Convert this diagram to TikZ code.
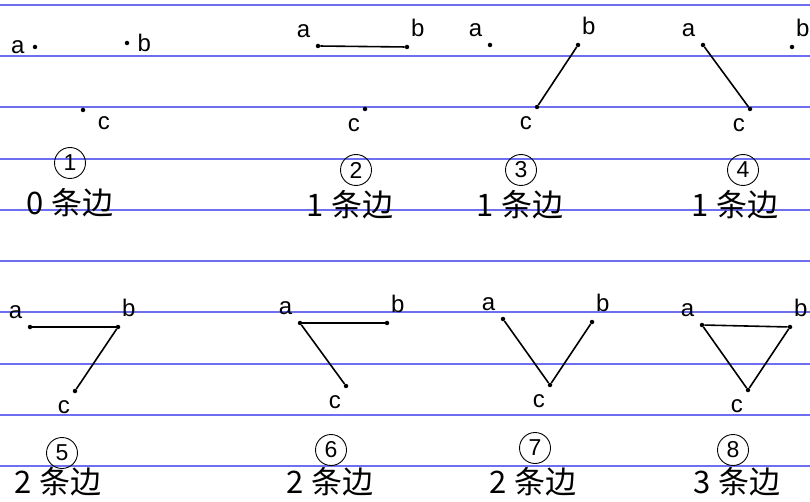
\documentclass[tikz,border=0pt]{standalone}
\usepackage{fontspec}
\setmainfont{Liberation Sans}
\newfontfamily\cjk{Noto Sans CJK SC}
\usepackage{tikz}
\usetikzlibrary{positioning}

\definecolor{ruleblue}{RGB}{110,110,240}

\begin{document}
\begin{tikzpicture}[
  x=1pt, y=-1pt,
  vertex/.style={circle, fill=black, inner sep=0pt, minimum size=4.5pt},
  lbl/.style={font=\fontsize{24}{24}\selectfont, inner sep=1pt, label distance=7pt},
  num/.style={circle, draw, line width=0.9pt, inner sep=0pt, minimum size=31pt, font=\fontsize{23}{23}\selectfont},
  cnt/.style={font=\fontsize{31}{31}\selectfont\cjk, inner sep=0pt},
  link/.style={line width=1.6pt},
  ruled/.style={draw=ruleblue, line width=1.3pt}
]
\useasboundingbox (0,0) rectangle (810,502);
\fill[white] (0,0) rectangle (810,502);
\foreach \y in {5,56,107,159,210,261,312,364,415,466}
  \draw[ruled] (0,\y) -- (810,\y);

% 1
\node[vertex, label={[lbl]180:a}] (pa1) at (35,47) {};
\node[vertex, label={[lbl]0:b}] (pb1) at (127,43) {};
\node[vertex, label={[lbl,label distance=12pt]-20:c}] (pc1) at (83,110) {};
\node[num] (n1) at (70,163) {1};
\node[cnt] (e1) at (70,203) {0 条边};

% 2
\node[vertex, label={[lbl]135:a}] (pa2) at (318,46) {};
\node[vertex, label={[lbl]72:b}] (pb2) at (407,47) {};
\node[vertex, label={[lbl]245:c}] (pc2) at (365,109) {};
\node[num] (n2) at (356,170) {2};
\node[cnt] (e2) at (350,205) {1 条边};
\draw[link] (pa2) -- (pb2);

% 3
\node[vertex, label={[lbl]135:a}] (pa3) at (490,45) {};
\node[vertex, label={[lbl]72:b}] (pb3) at (578,45) {};
\node[vertex, label={[lbl]245:c}] (pc3) at (537,107) {};
\node[num] (n3) at (521,170) {3};
\node[cnt] (e3) at (520,205) {1 条边};
\draw[link] (pb3) -- (pc3);

% 4
\node[vertex, label={[lbl]135:a}] (pa4) at (703,45) {};
\node[vertex, label={[lbl]72:b}] (pb4) at (792,47) {};
\node[vertex, label={[lbl]245:c}] (pc4) at (750,109) {};
\node[num] (n4) at (743,170) {4};
\node[cnt] (e4) at (735,205) {1 条边};
\draw[link] (pa4) -- (pc4);

% 5
\node[vertex, label={[lbl]135:a}] (pa5) at (30,327) {};
\node[vertex, label={[lbl]72:b}] (pb5) at (118,327) {};
\node[vertex, label={[lbl]245:c}] (pc5) at (75,391) {};
\node[num] (n5) at (62,453) {5};
\node[cnt] (e5) at (58,482) {2 条边};
\draw[link] (pa5) -- (pb5);
\draw[link] (pb5) -- (pc5);

% 6
\node[vertex, label={[lbl]135:a}] (pa6) at (300,323) {};
\node[vertex, label={[lbl]72:b}] (pb6) at (387,323) {};
\node[vertex, label={[lbl]245:c}] (pc6) at (346,386) {};
\node[num] (n6) at (331,450) {6};
\node[cnt] (e6) at (330,482) {2 条边};
\draw[link] (pa6) -- (pb6);
\draw[link] (pa6) -- (pc6);

% 7
\node[vertex, label={[lbl]135:a}] (pa7) at (503,319) {};
\node[vertex, label={[lbl]72:b}] (pb7) at (592,322) {};
\node[vertex, label={[lbl]245:c}] (pc7) at (550,385) {};
\node[num] (n7) at (535,448) {7};
\node[cnt] (e7) at (533,482) {2 条边};
\draw[link] (pa7) -- (pc7);
\draw[link] (pb7) -- (pc7);

% 8
\node[vertex, label={[lbl]135:a}] (pa8) at (702,325) {};
\node[vertex, label={[lbl]72:b}] (pb8) at (790,327) {};
\node[vertex, label={[lbl]245:c}] (pc8) at (748,390) {};
\node[num] (n8) at (733,450) {8};
\node[cnt] (e8) at (737,482) {3 条边};
\draw[link] (pa8) -- (pb8);
\draw[link] (pb8) -- (pc8);
\draw[link] (pc8) -- (pa8);
\end{tikzpicture}
\end{document}
